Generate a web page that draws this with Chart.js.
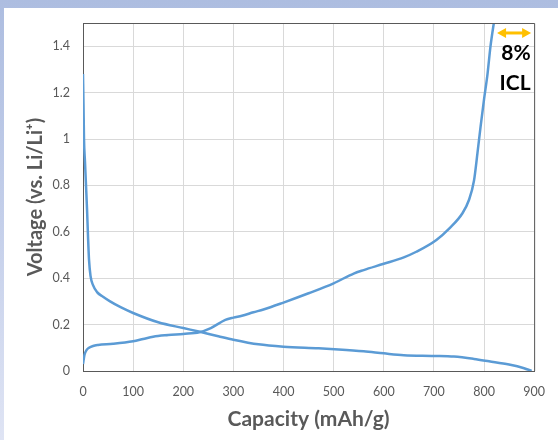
<!DOCTYPE html>
<html>
<head>
<meta charset="utf-8">
<script src="https://cdn.jsdelivr.net/npm/chart.js@4"></script>
<style>
  html, body { margin: 0; padding: 0; }
  body { width: 558px; height: 440px; position: relative; overflow: hidden;
         background: linear-gradient(to bottom, #adbde0 0%, #c4cfea 50%, #dfe4f4 100%); }
  #frame { position: absolute; left: 4px; top: 8px; right: 0; bottom: 0; background: #ffffff; }
  #wrap { position: absolute; left: 0; top: 0; width: 558px; height: 440px; }
</style>
</head>
<body>
<div id="frame"></div>
<div id="wrap"><canvas id="c" width="558" height="440"></canvas></div>
<script>
// Discharge (lithiation) curve: capacity (mAh/g) and voltage (V)
const dischargeCapacity = [0, 1, 2, 4, 6, 8, 10, 12, 15, 20, 28, 40, 54, 75, 100, 150, 200, 231, 270, 300, 350, 400, 470, 510, 560, 600, 640, 700, 740, 780, 810, 850, 880, 895];
const dischargeVoltage  = [1.28, 1.15, 1.0, 0.9, 0.8, 0.7, 0.58, 0.48, 0.41, 0.37, 0.34, 0.32, 0.30, 0.275, 0.25, 0.21, 0.185, 0.17, 0.15, 0.135, 0.115, 0.105, 0.098, 0.093, 0.085, 0.076, 0.068, 0.065, 0.062, 0.052, 0.042, 0.028, 0.012, 0.0];

// Charge (delithiation) curve
const chargeCapacity = [0, 3, 7, 12, 20, 30, 60, 100, 120, 140, 170, 200, 232, 255, 284, 300, 317, 340, 360, 400, 450, 500, 540, 560, 600, 640, 665, 705, 731, 757, 770, 780, 787, 793, 800, 807, 813, 821];
const chargeVoltage  = [0.03, 0.07, 0.09, 0.10, 0.108, 0.112, 0.117, 0.128, 0.138, 0.148, 0.155, 0.16, 0.167, 0.185, 0.22, 0.23, 0.238, 0.253, 0.265, 0.295, 0.335, 0.378, 0.42, 0.435, 0.462, 0.49, 0.514, 0.565, 0.615, 0.68, 0.737, 0.82, 0.94, 1.05, 1.17, 1.28, 1.40, 1.52];

// Axes
const xTicks = [0, 100, 200, 300, 400, 500, 600, 700, 800, 900];
const yTicks = [0, 0.2, 0.4, 0.6, 0.8, 1, 1.2, 1.4];
const xTitle = 'Capacity (mAh/g)';
const yTitle = 'Voltage (vs. Li/Li\u207A)';

// Annotation
const iclArrow = { from: 826, to: 894, y: 1.457 };
const iclLabels = [{ text: '8%', x: 893, y: 1.37 }, { text: 'ICL', x: 893, y: 1.24 }];

function toPoints(xs, ys) { return xs.map((x, i) => ({ x: x, y: ys[i] })); }

const lineColor = '#5b9bd5';
const axisText = '#595959';

const framePlugin = {
  id: 'framePlugin',
  afterDraw(chart) {
    const { ctx, chartArea: a, scales } = chart;
    ctx.save();
    ctx.strokeStyle = '#595959';
    ctx.lineWidth = 1;
    ctx.beginPath();
    ctx.moveTo(a.left, a.top + 0.5);
    ctx.lineTo(a.right + 0.5, a.top + 0.5);
    ctx.lineTo(a.right + 0.5, a.bottom);
    ctx.stroke();

    const xs = scales.x, ys = scales.y;
    const x1 = xs.getPixelForValue(iclArrow.from);
    const x2 = xs.getPixelForValue(iclArrow.to);
    const y = ys.getPixelForValue(iclArrow.y);
    ctx.strokeStyle = '#ffc000';
    ctx.fillStyle = '#ffc000';
    ctx.lineWidth = 3;
    ctx.beginPath();
    ctx.moveTo(x1 + 6, y);
    ctx.lineTo(x2 - 6, y);
    ctx.stroke();
    ctx.beginPath();
    ctx.moveTo(x1, y); ctx.lineTo(x1 + 9, y - 5); ctx.lineTo(x1 + 9, y + 5); ctx.closePath(); ctx.fill();
    ctx.beginPath();
    ctx.moveTo(x2, y); ctx.lineTo(x2 - 9, y - 5); ctx.lineTo(x2 - 9, y + 5); ctx.closePath(); ctx.fill();

    ctx.fillStyle = '#000000';
    ctx.font = 'bold 21px Lato, "Open Sans", sans-serif';
    ctx.textAlign = 'right';
    ctx.textBaseline = 'middle';
    iclLabels.forEach(l => ctx.fillText(l.text, xs.getPixelForValue(l.x), ys.getPixelForValue(l.y)));
    ctx.restore();
  }
};

new Chart(document.getElementById('c'), {
  type: 'scatter',
  data: {
    datasets: [
      { label: 'Discharge', data: toPoints(dischargeCapacity, dischargeVoltage), showLine: true,
        borderColor: lineColor, borderWidth: 2.5, pointRadius: 0, cubicInterpolationMode: 'monotone', fill: false },
      { label: 'Charge', data: toPoints(chargeCapacity, chargeVoltage), showLine: true,
        borderColor: lineColor, borderWidth: 2.5, pointRadius: 0, cubicInterpolationMode: 'monotone', fill: false }
    ]
  },
  options: {
    responsive: false,
    animation: false,
    devicePixelRatio: 1,
    layout: { padding: { top: 23, right: 17, left: 0, bottom: 0 } },
    plugins: { legend: { display: false }, tooltip: { enabled: false } },
    scales: {
      x: {
        type: 'linear', min: 0, max: 900,
        afterBuildTicks(scale) { scale.ticks = xTicks.map(v => ({ value: v })); },
        afterFit(scale) { scale.height = 69; },
        ticks: { color: axisText, font: { family: 'Lato, "Open Sans", sans-serif', size: 12.5 }, padding: 13,
                 callback: v => String(v) },
        grid: { color: '#d9d9d9', lineWidth: 1, drawTicks: false },
        border: { display: true, color: '#595959', width: 1 },
        title: { display: true, text: xTitle, color: axisText,
                 font: { family: 'Lato, "Open Sans", sans-serif', size: 21, weight: 'bold' },
                 padding: { top: 0, bottom: 8 } }
      },
      y: {
        type: 'linear', min: 0, max: 1.5,
        afterBuildTicks(scale) { scale.ticks = yTicks.map(v => ({ value: v })); },
        afterFit(scale) { scale.width = 83; },
        ticks: { color: axisText, font: { family: 'Lato, "Open Sans", sans-serif', size: 12.5 }, padding: 13,
                 callback: v => String(Math.round(v * 10) / 10) },
        grid: { color: '#d9d9d9', lineWidth: 1, drawTicks: false },
        border: { display: true, color: '#595959', width: 1 },
        title: { display: true, text: yTitle, color: axisText,
                 font: { family: 'Lato, "Open Sans", sans-serif', size: 20, weight: 'bold' },
                 padding: { top: 24, bottom: 0 } }
      }
    }
  },
  plugins: [framePlugin]
});
</script>
</body>
</html>
